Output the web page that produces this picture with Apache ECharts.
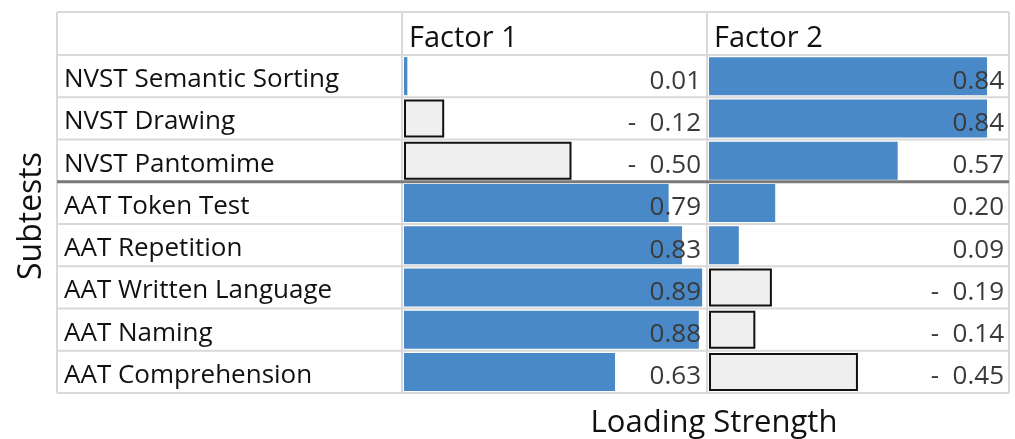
<!DOCTYPE html>
<html>
<head>
<meta charset="utf-8">
<script src="https://cdn.jsdelivr.net/npm/echarts@6/dist/echarts.min.js"></script>
<style>
html,body{margin:0;padding:0;background:#fff;}
#chart{width:1015px;height:439px;}
</style>
</head>
<body>
<div id="chart"></div>
<script>
const categories = ['NVST Semantic Sorting','NVST Drawing','NVST Pantomime','AAT Token Test','AAT Repetition','AAT Written Language','AAT Naming','AAT Comprehension'];
const factor1 = [0.01, -0.12, -0.50, 0.79, 0.83, 0.89, 0.88, 0.63];
const factor2 = [0.84, 0.84, 0.57, 0.20, 0.09, -0.19, -0.14, -0.45];
const columnTitles = ['Factor 1', 'Factor 2'];
const yTitle = 'Subtests';
const xTitle = 'Loading Strength';

const FONT = '"Open Sans", Lato, sans-serif';
const T = { left: 57, right: 1009, top: 12, header: 55, bottom: 393 };
const colX = [402, 707];
const rowH = (T.bottom - T.header) / categories.length;
const scale = [335, 331];
const labelRight = [701, 1004];

function barData(vals) {
  return vals.map(v => ({
    value: Math.abs(v),
    raw: v,
    itemStyle: v < 0
      ? { color: '#efefef', borderColor: '#111', borderWidth: 2 }
      : { color: '#4a89c7' }
  }));
}
function fmt(v) { return v < 0 ? '-  ' + Math.abs(v).toFixed(2) : v.toFixed(2); }

const grids = [], xAxes = [], yAxes = [], series = [];
[factor1, factor2].forEach((vals, i) => {
  const left = colX[i] + 2;
  const colW = (i === 0 ? colX[1] : T.right) - left;
  grids.push({ left: left, top: T.header, width: colW, height: T.bottom - T.header });
  xAxes.push({ type: 'value', gridIndex: i, min: 0, max: colW / scale[i], show: false });
  yAxes.push({
    type: 'category', gridIndex: i, data: categories, inverse: true,
    axisLine: { show: false }, axisTick: { show: false }, splitLine: { show: false },
    axisLabel: i === 0 ? { show: true, align: 'left', verticalAlign: 'top', lineHeight: 7, margin: left - 64, fontFamily: FONT, fontSize: 26, color: '#111' } : { show: false },
    name: i === 0 ? yTitle : '', nameLocation: 'middle', nameRotate: 90, nameGap: left - 48,
    nameTextStyle: { fontFamily: FONT, fontSize: 32, color: '#111', padding: [0, 0, 0, 16] }
  });
  series.push({
    type: 'bar', xAxisIndex: i, yAxisIndex: i, barWidth: 38,
    data: barData(vals), animation: false,
    label: {
      show: true, position: [labelRight[i] - left, 24], align: 'right', verticalAlign: 'middle',
      fontFamily: FONT, fontSize: 26, color: '#3a3a3a',
      formatter: p => fmt(p.data.raw)
    }
  });
});

const lineStyle = { stroke: '#d9d9d9', lineWidth: 2 };
const graphics = [];
const hy = [T.top, T.header];
for (let k = 1; k < categories.length; k++) hy.push(T.header + rowH * k);
hy.push(T.bottom);
hy.forEach((y, k) => {
  if (k === 4) return;
  graphics.push({ type: 'line', shape: { x1: T.left, y1: y, x2: T.right, y2: y }, style: lineStyle, z: -1 });
});
[T.left, colX[0], colX[1], T.right].forEach(x => {
  graphics.push({ type: 'line', shape: { x1: x, y1: T.top, x2: x, y2: T.bottom }, style: lineStyle, z: -1 });
});
graphics.push({ type: 'line', shape: { x1: T.left, y1: hy[4], x2: T.right, y2: hy[4] }, style: { stroke: '#7a7a7a', lineWidth: 3 }, z: 10 });

const titles = columnTitles.map((t, i) => ({
  text: t, left: colX[i] + 2, top: 19,
  textStyle: { fontFamily: FONT, fontSize: 29, fontWeight: 'normal', color: '#111' }
}));
titles.push({ text: xTitle, left: 709, top: 403, textAlign: 'center',
  textStyle: { fontFamily: FONT, fontSize: 31, fontWeight: 'normal', color: '#111' } });

const chart = echarts.init(document.getElementById('chart'));
chart.setOption({
  animation: false,
  title: titles,
  grid: grids, xAxis: xAxes, yAxis: yAxes, series: series,
  graphic: graphics
});
</script>
</body>
</html>
